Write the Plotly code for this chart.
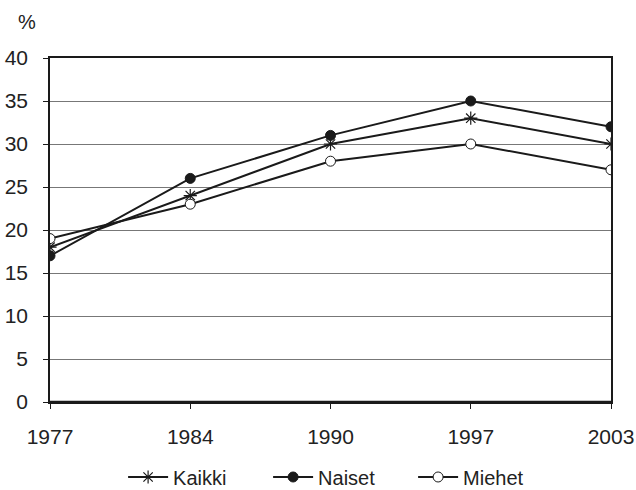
import plotly.graph_objects as go

years = ["1977", "1984", "1990", "1997", "2003"]
kaikki = [18, 24, 30, 33, 30]
naiset = [17, 26, 31, 35, 32]
miehet = [19, 23, 28, 30, 27]
y_ticks = [0, 5, 10, 15, 20, 25, 30, 35, 40]

xs = list(range(len(years)))
font = "Liberation Sans, Arial, sans-serif"
ink = "#1a1a1a"

fig = go.Figure()
fig.add_trace(go.Scatter(x=xs, y=kaikki, name="Kaikki", mode="lines+markers",
                         line=dict(color=ink, width=2),
                         marker=dict(symbol="asterisk-open", size=11, color=ink,
                                     line=dict(color=ink, width=1.2))))
fig.add_trace(go.Scatter(x=xs, y=naiset, name="Naiset", mode="lines+markers",
                         line=dict(color=ink, width=2),
                         marker=dict(symbol="circle", size=10, color=ink,
                                     line=dict(color=ink, width=1))))
fig.add_trace(go.Scatter(x=xs, y=miehet, name="Miehet", mode="lines+markers",
                         line=dict(color=ink, width=2),
                         marker=dict(symbol="circle", size=10, color="white",
                                     line=dict(color=ink, width=1))))

fig.update_layout(
    width=636, height=490,
    margin=dict(l=50, r=25, t=58, b=88, autoexpand=False),
    paper_bgcolor="white", plot_bgcolor="white",
    font=dict(family=font, size=21, color="#222"),
    showlegend=True,
    legend=dict(orientation="h", x=0.518, xanchor="center", y=-0.218, yanchor="middle",
                font=dict(size=20), itemwidth=40, entrywidth=90, entrywidthmode="pixels",
                traceorder="normal"),
    xaxis=dict(tickmode="array", tickvals=xs, ticktext=years, range=[0, 4],
               showgrid=False, zeroline=False, showline=True, linecolor=ink,
               linewidth=1.5, mirror=True, ticks="outside", ticklen=5, tickcolor=ink,
               tickfont=dict(size=21), ticklabelstandoff=10, automargin=False,
               fixedrange=True),
    yaxis=dict(range=[0, 40], tickmode="array", tickvals=y_ticks,
               showgrid=True, gridcolor="#777", gridwidth=1,
               zeroline=False, showline=True, linecolor=ink, linewidth=1.5,
               mirror=True, ticks="outside", ticklen=5, tickcolor=ink,
               tickfont=dict(size=21), ticklabelstandoff=11, automargin=False,
               fixedrange=True),
    annotations=[dict(text="%", xref="paper", yref="paper", x=-0.041, y=1.105,
                      xanchor="center", yanchor="middle", showarrow=False,
                      font=dict(size=20, family=font))],
    shapes=[dict(type="line", xref="paper", yref="y", x0=0, x1=1, y0=0, y1=0,
                 line=dict(color=ink, width=2.5))],
)

fig.write_html("out.html")
